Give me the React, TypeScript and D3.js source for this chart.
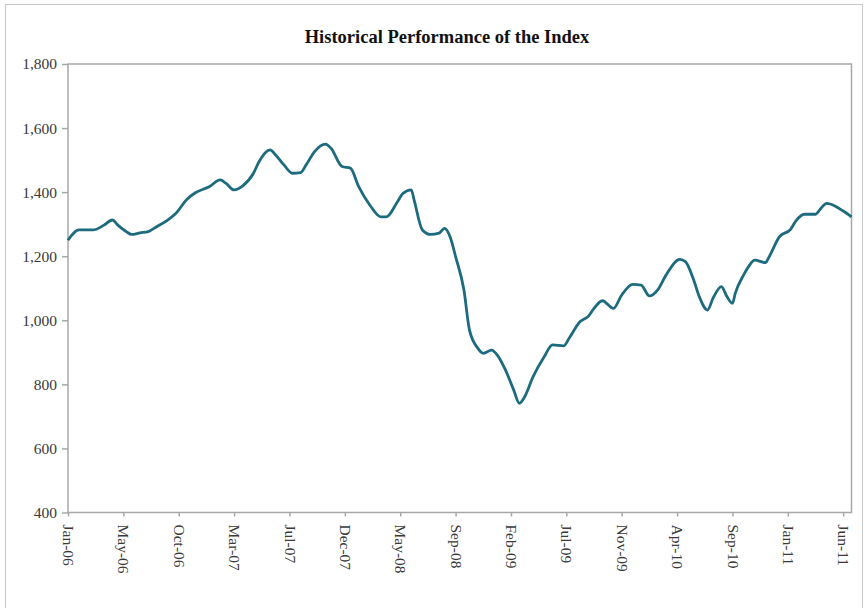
import * as d3 from 'd3';
import React, { useEffect, useRef } from 'react';

// weekly index (0 = first week of Jan-06) and index level
const weeks = [
    0, 4, 9, 13, 16, 18, 21, 23, 26, 29, 32, 36, 39, 43, 46, 51, 55, 57, 60, 63,
    67, 69, 73, 75, 78, 81, 84, 86, 89, 93, 95, 99, 102, 105, 109, 113, 115, 119,
    121, 124, 125, 128, 131, 134, 136, 138, 140, 143, 145, 148, 150, 153, 155,
    158, 161, 163, 165, 168, 172, 175, 179, 181, 185, 188, 190, 193, 197, 200,
    204, 207, 210, 213, 216, 221, 223, 226, 228, 231, 233, 236, 238, 240, 241,
    244, 246, 248, 252, 253, 257, 261, 263, 266, 270, 272, 274, 277, 280, 283,
];
const levels = [
    1250, 1282, 1282, 1297, 1313, 1297, 1277, 1268, 1273, 1277, 1292, 1313, 1334,
    1378, 1398, 1417, 1438, 1428, 1407, 1419, 1459, 1495, 1532, 1516, 1485, 1459,
    1461, 1485, 1526, 1550, 1537, 1480, 1475, 1417, 1360, 1323, 1323, 1370, 1396,
    1407, 1376, 1282, 1268, 1272, 1287, 1261, 1199, 1095, 970, 913, 897, 907, 892,
    845, 782, 741, 762, 824, 886, 923, 920, 944, 996, 1013, 1037, 1061, 1037, 1079,
    1112, 1110, 1076, 1095, 1141, 1190, 1183, 1126, 1074, 1032, 1069, 1105, 1074,
    1053, 1084, 1141, 1170, 1188, 1180, 1194, 1261, 1284, 1311, 1331, 1331, 1350,
    1365, 1357, 1341, 1323,
];
// one label every 20 weeks
const tickLabels = [
    'Jan-06', 'May-06', 'Oct-06', 'Mar-07', 'Jul-07', 'Dec-07', 'May-08',
    'Sep-08', 'Feb-09', 'Jul-09', 'Nov-09', 'Apr-10', 'Sep-10', 'Jan-11', 'Jun-11',
];
const yTicks = [400, 600, 800, 1000, 1200, 1400, 1600, 1800];

const width = 867;
const height = 608;
const marginTop = 64;
const marginBottom = 95.5;
const marginLeft = 68;
const marginRight = 15.5;

const App = () => {
    const svgRef = useRef<SVGSVGElement | null>(null);

    useEffect(() => {
        const svg = d3.select(svgRef.current);
        svg.selectAll('*').remove();

        const x = d3
            .scaleLinear()
            .domain([0, 283])
            .range([marginLeft, width - marginRight]);
        const y = d3
            .scaleLinear()
            .domain([400, 1800])
            .range([height - marginBottom, marginTop]);

        // outer frame
        svg.append('rect')
            .attr('x', 5.5)
            .attr('y', 4.5)
            .attr('width', 857)
            .attr('height', 620)
            .attr('fill', 'white')
            .attr('stroke', '#c8c8c8');

        svg.append('text')
            .attr('x', 447)
            .attr('y', 43)
            .attr('text-anchor', 'middle')
            .attr('font-family', '"Liberation Serif", serif')
            .attr('font-weight', 'bold')
            .attr('font-size', 18.5)
            .attr('fill', '#111')
            .text('Historical Performance of the Index');

        // plot area box
        svg.append('rect')
            .attr('x', marginLeft)
            .attr('y', marginTop)
            .attr('width', width - marginLeft - marginRight)
            .attr('height', height - marginTop - marginBottom)
            .attr('fill', 'none')
            .attr('stroke', '#a8a8a8')
            .attr('stroke-width', 1.5);

        svg.append('g')
            .attr('transform', `translate(${marginLeft},0)`)
            .call(
                d3
                    .axisLeft(y)
                    .tickValues(yTicks)
                    .tickSize(6)
                    .tickPadding(5)
                    .tickFormat(d3.format(',')),
            )
            .call((g) => g.select('.domain').remove())
            .call((g) =>
                g.selectAll('.tick line').attr('stroke', '#a8a8a8').attr('stroke-width', 1.5),
            )
            .call((g) =>
                g
                    .selectAll('.tick text')
                    .attr('font-family', '"Liberation Serif", serif')
                    .attr('font-size', 15.5)
                    .attr('fill', '#3a3a3a'),
            );

        const xAxis = svg
            .append('g')
            .attr('transform', `translate(0,${height - marginBottom})`)
            .call(
                d3
                    .axisBottom(x)
                    .tickValues(tickLabels.map((_, i) => i * 20))
                    .tickSize(4)
                    .tickFormat((_, i) => tickLabels[i]),
            );
        xAxis.select('.domain').remove();
        xAxis.selectAll('.tick line').attr('stroke', '#a8a8a8').attr('stroke-width', 1.5);
        xAxis
            .selectAll('.tick text')
            .attr('font-family', '"Liberation Serif", serif')
            .attr('font-size', 15.5)
            .attr('fill', '#3a3a3a')
            .attr('text-anchor', 'start')
            .attr('transform', 'rotate(90)')
            .attr('x', 12)
            .attr('y', 0)
            .attr('dy', '0.35em');

        const line = d3
            .line<number>()
            .x((_, i) => x(weeks[i]))
            .y((d) => y(d))
            .curve(d3.curveMonotoneX);

        svg.append('path')
            .datum(levels)
            .attr('fill', 'none')
            .attr('stroke', '#1d6b7e')
            .attr('stroke-width', 2.8)
            .attr('stroke-linejoin', 'round')
            .attr('d', line);
    });

    return (
        <svg
            ref={svgRef}
            width={width}
            height={height}
            style={{ position: 'absolute', left: 0, top: 0 }}
        />
    );
};

export default App;
